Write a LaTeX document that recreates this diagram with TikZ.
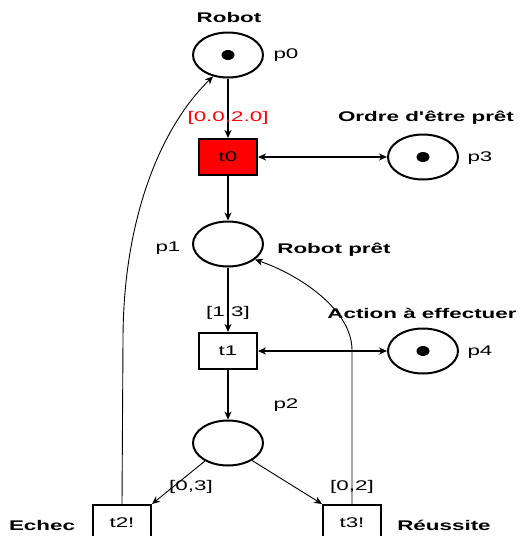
\documentclass[tikz,border=0pt]{standalone}
\usepackage{fontspec}
\setmainfont{Liberation Sans}
\usepackage{graphicx}
\usetikzlibrary{shapes.geometric,arrows.meta}
% wide lettering used throughout the net
\newcommand\wide[1]{\scalebox{1.6}[1]{#1}}

\begin{document}
\begin{tikzpicture}[x=1pt,y=-1pt,
  place/.style={ellipse,draw,line width=2pt,minimum width=70pt,minimum height=45pt,inner sep=0pt},
  trans/.style={rectangle,draw,line width=2pt,minimum width=58pt,minimum height=36pt,inner sep=0pt,font=\fontsize{14}{16}\selectfont},
  token/.style={ellipse,fill=black,minimum width=13pt,minimum height=10pt,inner sep=0pt},
  tag/.style={font=\fontsize{14}{16}\selectfont,inner sep=0pt},
  title/.style={font=\fontsize{14}{16}\selectfont\bfseries,inner sep=0pt},
  tip/.tip={Stealth[length=8pt,width=7pt,inset=2.5pt]},
  arc/.style={line width=1.4pt,-tip},
  both/.style={line width=1.2pt,tip-tip},
  loop/.style={line width=0.9pt,-tip},
]
\fill[white] (0,0) rectangle (521,536);
\useasboundingbox (0,0) rectangle (521,536);

% places
\node[place] (p0) at (228,55) {};
\node[place] (p3) at (423,157) {};
\node[place] (p1) at (228,244) {};
\node[place] (p4) at (423,351) {};
\node[place] (p2) at (228,443) {};

% tokens
\node[token] (k0) at (p0) {};
\node[token] (k3) at (p3) {};
\node[token] (k4) at (p4) {};

% transitions
\node[trans,fill=red] (t0) at (228,157) {\wide{t0}};
\node[trans] (t1) at (228,351) {\wide{t1}};
\node[trans] (t2) at (122,523) {\wide{t2!}};
\node[trans] (t3) at (352,523) {\wide{t3!}};

% arcs
\draw[arc] (p0) -- (t0);
\draw[arc] (t0) -- (p1);
\draw[arc] (p1) -- (t1);
\draw[arc] (t1) -- (p2);
\draw[both] (t0) -- (p3);
\draw[both] (t1) -- (p4);
\draw[loop] (p2.218) -- (t2.north east);
\draw[loop] (p2.-36) -- (t3.north west);
\draw[loop] (t2.north) -- (123,340) .. controls (123,220) and (160,128) .. (p0.235);
\draw[loop] (t3.north) -- (352,350) .. controls (352,310) and (300,275) .. (p1.-30);

% labels
\node[title] (lrobot) at (229,17) {\wide{Robot}};
\node[tag] (lp0) at (286,55) {\wide{p0}};
\node[tag,text=red] (lt0) at (228,118) {\wide{[0.0,2.0]}};
\node[title] (lordre) at (426,118) {\wide{Ordre d\textquotesingle être prêt}};
\node[tag] (lp3) at (480,158) {\wide{p3}};
\node[tag] (lp1) at (168,248) {\wide{p1}};
\node[title] (lready) at (334,250) {\wide{Robot prêt}};
\node[tag] (lt1) at (228,313) {\wide{[1,3]}};
\node[title] (laction) at (422,313) {\wide{Action à effectuer}};
\node[tag] (lp4) at (480,352) {\wide{p4}};
\node[tag] (lp2) at (286,405) {\wide{p2}};
\node[tag] (lt2) at (191,487) {\wide{[0,3]}};
\node[tag] (lt3) at (352,487) {\wide{[0,2]}};
\node[title] (lfail) at (42,525) {\wide{Echec}};
\node[title] (lsucc) at (444,525) {\wide{Réussite}};
\end{tikzpicture}
\end{document}
